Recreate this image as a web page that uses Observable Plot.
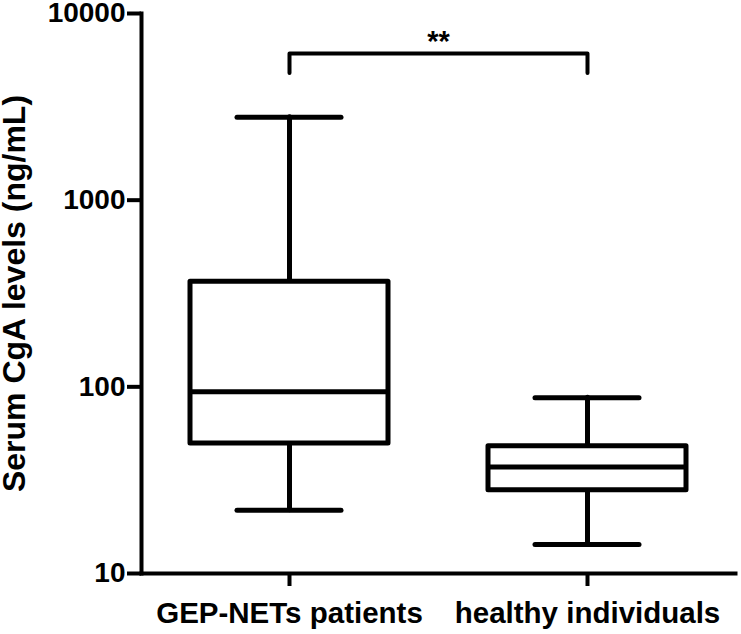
<!DOCTYPE html>
<html>
<head>
<meta charset="utf-8">
<script src="https://cdn.jsdelivr.net/npm/d3@7"></script>
<script src="https://cdn.jsdelivr.net/npm/@observablehq/plot@0.6"></script>
<style>
  html, body { margin: 0; padding: 0; background: #ffffff; }
  svg text { font-weight: bold; fill: #000; }
</style>
</head>
<body>
<div id="chart"></div>
<script>
// ---- data ----
const groups = ["GEP-NETs patients", "healthy individuals"];
const whiskerLow  = [21.8, 14.3];
const q1          = [49.7, 27.9];
const median      = [94.0, 37.2];
const q3          = [366, 48.1];
const whiskerHigh = [2780, 87.3];
const yTicks = [10, 100, 1000, 10000];
const yTitle = "Serum CgA levels (ng/mL)";
const sigLabel = "**";
const bracketTop = 6100;
const bracketLeg = 4800;

const boxes = groups.map((g, i) => ({
  group: g, lo: whiskerLow[i], q1: q1[i], med: median[i], q3: q3[i], hi: whiskerHigh[i]
}));
const bracket = [
  {group: groups[0], y: bracketLeg},
  {group: groups[0], y: bracketTop},
  {group: groups[1], y: bracketTop},
  {group: groups[1], y: bracketLeg}
];

const W = 741, H = 634;
const lineW = 5;

const chart = Plot.plot({
  width: W,
  height: H,
  marginLeft: 141,
  marginRight: 6,
  marginTop: 13,
  marginBottom: 61,
  style: {fontFamily: "'Liberation Sans', Arial, sans-serif", color: "#000", background: "#fff", overflow: "visible"},
  x: {type: "band", domain: groups, paddingInner: 0.336, paddingOuter: 0.164, align: 0.5, axis: null},
  y: {type: "log", domain: [10, 10000], axis: null},
  marks: [
    // axis lines
    Plot.frame({anchor: "left", stroke: "#000", strokeWidth: 4}),
    Plot.frame({anchor: "bottom", stroke: "#000", strokeWidth: 4}),
    Plot.axisY({
      ticks: yTicks, tickFormat: d => String(d), tickSize: 14, tickPadding: 2,
      fontSize: 28, fontWeight: "bold", strokeWidth: 4, label: null
    }),
    Plot.axisX({
      tickSize: 13, tickPadding: 16, fontSize: 29.5, fontWeight: "bold", strokeWidth: 4, label: null
    }),
    Plot.text([yTitle], {
      frameAnchor: "left", text: d => d, rotate: -90, dx: -139,
      textAnchor: "middle", lineAnchor: "top", fontSize: 32, fontWeight: "bold"
    }),
    // whiskers
    Plot.ruleX(boxes, {x: "group", y1: "lo", y2: "hi", stroke: "#000", strokeWidth: lineW, strokeLinecap: "round"}),
    // caps
    Plot.tickY(boxes, {x: "group", y: "hi", stroke: "#000", strokeWidth: lineW, strokeLinecap: "round", insetLeft: 47, insetRight: 47}),
    Plot.tickY(boxes, {x: "group", y: "lo", stroke: "#000", strokeWidth: lineW, strokeLinecap: "round", insetLeft: 47, insetRight: 47}),
    // boxes
    Plot.barY(boxes, {x: "group", y1: "q1", y2: "q3", fill: "#fff", stroke: "#000", strokeWidth: lineW, strokeLinejoin: "round"}),
    Plot.tickY(boxes, {x: "group", y: "med", stroke: "#000", strokeWidth: lineW}),
    // significance bracket
    Plot.line(bracket, {x: "group", y: "y", stroke: "#000", strokeWidth: 4, strokeLinecap: "round", strokeLinejoin: "round", curve: "linear"}),
    Plot.text([sigLabel], {y: () => bracketTop, text: d => d, lineAnchor: "bottom", dy: -3, fontSize: 29, fontWeight: "bold"})
  ]
});

document.getElementById("chart").appendChild(chart);
</script>
</body>
</html>
